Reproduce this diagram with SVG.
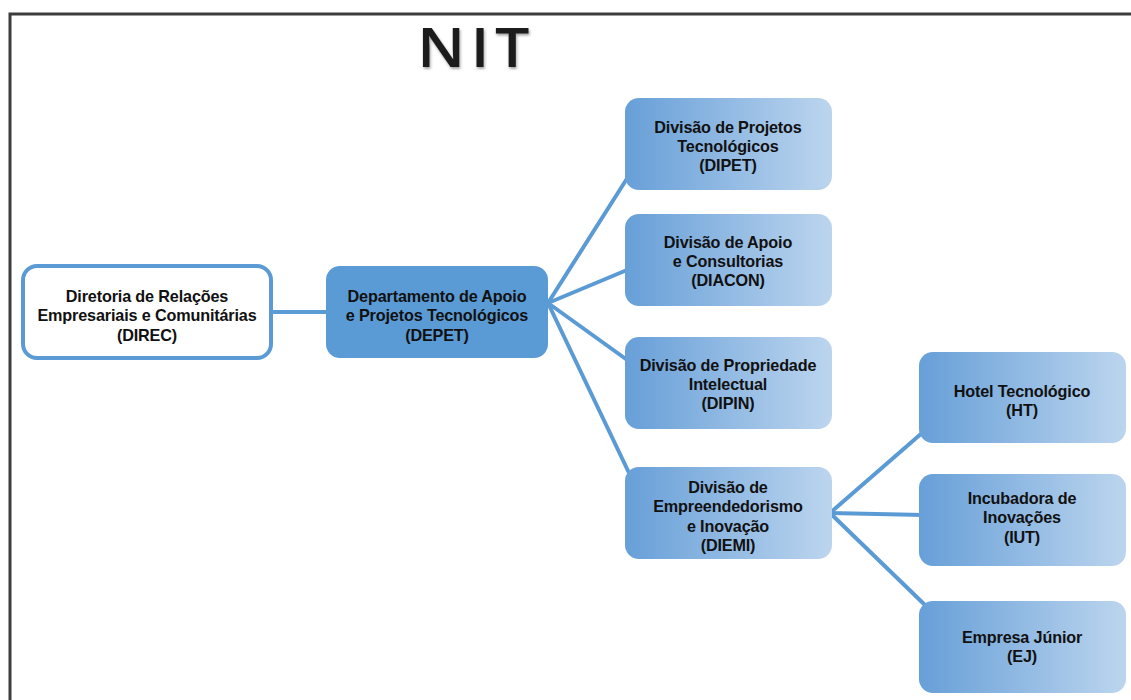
<svg xmlns="http://www.w3.org/2000/svg" width="1131" height="700" viewBox="0 0 1131 700">
  <defs>
    <linearGradient id="divFill" x1="0" y1="0" x2="1" y2="0">
      <stop offset="0" stop-color="#679fd8"/>
      <stop offset="1" stop-color="#bcd5ee"/>
    </linearGradient>
    <filter id="titleShadow" x="-10%" y="-10%" width="130%" height="140%">
      <feGaussianBlur in="SourceAlpha" stdDeviation="1.2"/>
      <feOffset dx="1" dy="1.5" result="b"/>
      <feFlood flood-color="#000" flood-opacity="0.35"/>
      <feComposite in2="b" operator="in"/>
      <feMerge><feMergeNode/><feMergeNode in="SourceGraphic"/></feMerge>
    </filter>
    <style>
      .frame { fill: none; stroke: #3c3c3c; stroke-width: 3; }
      .title { font-family: "Open Sans", "DejaVu Sans", sans-serif; font-weight: 600; font-size: 54px; fill: #1e1e1e; letter-spacing: 5px; }
      .link { stroke: #5b9bd5; stroke-width: 4; fill: none; stroke-linecap: round; }
      .direc { fill: #ffffff; stroke: #5b9bd5; stroke-width: 4; }
      .depet { fill: #5b9bd5; }
      .div { fill: url(#divFill); }
      .lbl { font-family: "Liberation Sans", Arial, sans-serif; font-weight: bold; font-size: 16.2px; letter-spacing: -0.15px; fill: #111; text-anchor: middle; }
    </style>
  </defs>

  <rect width="1131" height="700" fill="#ffffff"/>

  <!-- outer frame, open to the right and bottom -->
  <path class="frame" d="M10,702 V14 H1133"/>

  <g transform="translate(474 0) scale(1.13 1)">
    <text class="title" x="2" y="67" text-anchor="middle" filter="url(#titleShadow)">NIT</text>
  </g>

  <!-- connectors -->
  <g id="connectors">
    <line class="link" x1="271" y1="312" x2="326" y2="312"/>
    <line class="link" x1="548" y1="303" x2="628" y2="177"/>
    <line class="link" x1="548" y1="303" x2="627" y2="270"/>
    <line class="link" x1="548" y1="303" x2="630" y2="362"/>
    <line class="link" x1="548" y1="303" x2="630" y2="475"/>
    <line class="link" x1="830" y1="513" x2="922" y2="433"/>
    <line class="link" x1="830" y1="513" x2="923" y2="515"/>
    <line class="link" x1="830" y1="513" x2="925" y2="605"/>
  </g>

  <g id="direc">
    <rect class="direc" x="23" y="266" width="248" height="92" rx="14"/>
    <text class="lbl" x="147" y="302">Diretoria de Relações</text>
    <text class="lbl" x="147" y="321">Empresariais e Comunitárias</text>
    <text class="lbl" x="147" y="341">(DIREC)</text>
  </g>

  <g id="depet">
    <rect class="depet" x="326" y="266" width="222" height="92" rx="14"/>
    <text class="lbl" x="437" y="302">Departamento de Apoio</text>
    <text class="lbl" x="437" y="321">e Projetos Tecnológicos</text>
    <text class="lbl" x="437" y="341">(DEPET)</text>
  </g>

  <g id="dipet">
    <rect class="div" x="625" y="98" width="207" height="92" rx="14"/>
    <text class="lbl" x="728" y="133">Divisão de Projetos</text>
    <text class="lbl" x="728" y="152">Tecnológicos</text>
    <text class="lbl" x="728" y="171">(DIPET)</text>
  </g>

  <g id="diacon">
    <rect class="div" x="625" y="214" width="207" height="92" rx="14"/>
    <text class="lbl" x="728" y="248">Divisão de Apoio</text>
    <text class="lbl" x="728" y="267">e Consultorias</text>
    <text class="lbl" x="728" y="286">(DIACON)</text>
  </g>

  <g id="dipin">
    <rect class="div" x="625" y="337" width="207" height="92" rx="14"/>
    <text class="lbl" x="728" y="371">Divisão de Propriedade</text>
    <text class="lbl" x="728" y="390">Intelectual</text>
    <text class="lbl" x="728" y="409">(DIPIN)</text>
  </g>

  <g id="diemi">
    <rect class="div" x="625" y="467" width="207" height="92" rx="14"/>
    <text class="lbl" x="728" y="493">Divisão de</text>
    <text class="lbl" x="728" y="512">Empreendedorismo</text>
    <text class="lbl" x="728" y="532">e Inovação</text>
    <text class="lbl" x="728" y="551">(DIEMI)</text>
  </g>

  <g id="ht">
    <rect class="div" x="919" y="352" width="207" height="91" rx="14"/>
    <text class="lbl" x="1022" y="397">Hotel Tecnológico</text>
    <text class="lbl" x="1022" y="416">(HT)</text>
  </g>

  <g id="iut">
    <rect class="div" x="919" y="474" width="207" height="92" rx="14"/>
    <text class="lbl" x="1022" y="504">Incubadora de</text>
    <text class="lbl" x="1022" y="523">Inovações</text>
    <text class="lbl" x="1022" y="543">(IUT)</text>
  </g>

  <g id="ej">
    <rect class="div" x="919" y="601" width="207" height="92" rx="14"/>
    <text class="lbl" x="1022" y="643">Empresa Júnior</text>
    <text class="lbl" x="1022" y="662">(EJ)</text>
  </g>
</svg>
